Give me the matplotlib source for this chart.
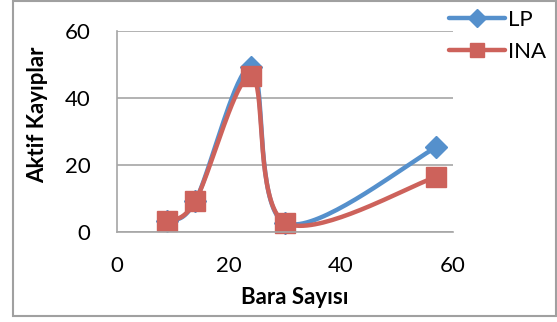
import numpy as np
import matplotlib.pyplot as plt
from matplotlib.lines import Line2D
from matplotlib.patches import Rectangle

plt.rcParams["font.family"] = ["Lato", "DejaVu Sans"]

# bus counts and active losses
bara = [9, 14, 24, 30, 57]
lp = [3.4, 9.3, 49.2, 2.7, 25.2]
ina = [3.4, 9.3, 46.6, 2.8, 16.4]

BLUE = "#5590cc"
RED = "#cd625b"
GRID = "#a6a6a6"
W, H = 557, 322


def smooth(ax, xs, ys, n=40):
    # Catmull-Rom style bezier in screen space, like the spreadsheet smoothed line
    pts = ax.transData.transform(np.column_stack([xs, ys]))
    out = [pts[0]]
    for i in range(len(pts) - 1):
        p0 = pts[i - 1] if i > 0 else pts[i]
        p1 = pts[i]
        p2 = pts[i + 1]
        p3 = pts[i + 2] if i + 2 < len(pts) else pts[i + 1]
        c1 = p1 + (p2 - p0) / 6
        c2 = p2 - (p3 - p1) / 6
        t = np.linspace(0, 1, n)[1:, None]
        seg = ((1 - t) ** 3) * p1 + 3 * ((1 - t) ** 2) * t * c1 + 3 * (1 - t) * t ** 2 * c2 + t ** 3 * p2
        out.extend(seg)
    out = np.array(out)
    return ax.transData.inverted().transform(out)


fig = plt.figure(figsize=(W / 100, H / 100), dpi=100)
ax = fig.add_axes([117 / W, 1 - 232 / H, (453 - 117) / W, (232 - 30.7) / H])
ax.set_xlim(0, 60)
ax.set_ylim(0, 60)
ax.set_xticks([0, 20, 40, 60])
ax.set_yticks([0, 20, 40, 60])
ax.tick_params(length=0, labelsize=16, colors="black")
ax.tick_params(axis="y", pad=19)
ax.tick_params(axis="x", pad=17)
for s in ["top", "right"]:
    ax.spines[s].set_visible(False)
for s in ["left", "bottom"]:
    ax.spines[s].set_color(GRID)
    ax.spines[s].set_linewidth(1.2)
ax.grid(axis="y", color=GRID, linewidth=1.2)
ax.set_axisbelow(True)

for ys, col, mk, ms in [(lp, BLUE, "D", 11), (ina, RED, "s", 14)]:
    curve = smooth(ax, bara, ys)
    ax.plot(curve[:, 0], curve[:, 1], color=col, lw=3.2, solid_capstyle="round", clip_on=False)
    ax.plot(bara, ys, linestyle="none", marker=mk, ms=ms, color=col, clip_on=False)

fig.text(295 / W, 1 - 298 / H, "Bara Sayısı", fontsize=16, fontweight="bold",
         ha="center", va="center")
fig.text(38 / W, 1 - 115 / H, "Aktif Kayıplar", fontsize=16, fontweight="bold",
         ha="center", va="center", rotation=90)

handles = [
    Line2D([], [], color=BLUE, lw=3.2, marker="D", ms=9, solid_capstyle="round"),
    Line2D([], [], color=RED, lw=3.2, marker="s", ms=10, solid_capstyle="round"),
]
fig.legend(handles, ["LP", "INA"], loc="upper left", bbox_to_anchor=(449 / W, 1 - 10 / H),
           frameon=False, fontsize=16, handlelength=2.5, handletextpad=0.15,
           labelspacing=0.55, borderaxespad=0, borderpad=0)

fig.add_artist(Rectangle((13 / W, 1 - 316 / H), (556 - 13) / W, 315 / H,
                         transform=fig.transFigure, fill=False, edgecolor="#a0a0a0", lw=1.5))

fig.savefig("out.png", dpi=100)
